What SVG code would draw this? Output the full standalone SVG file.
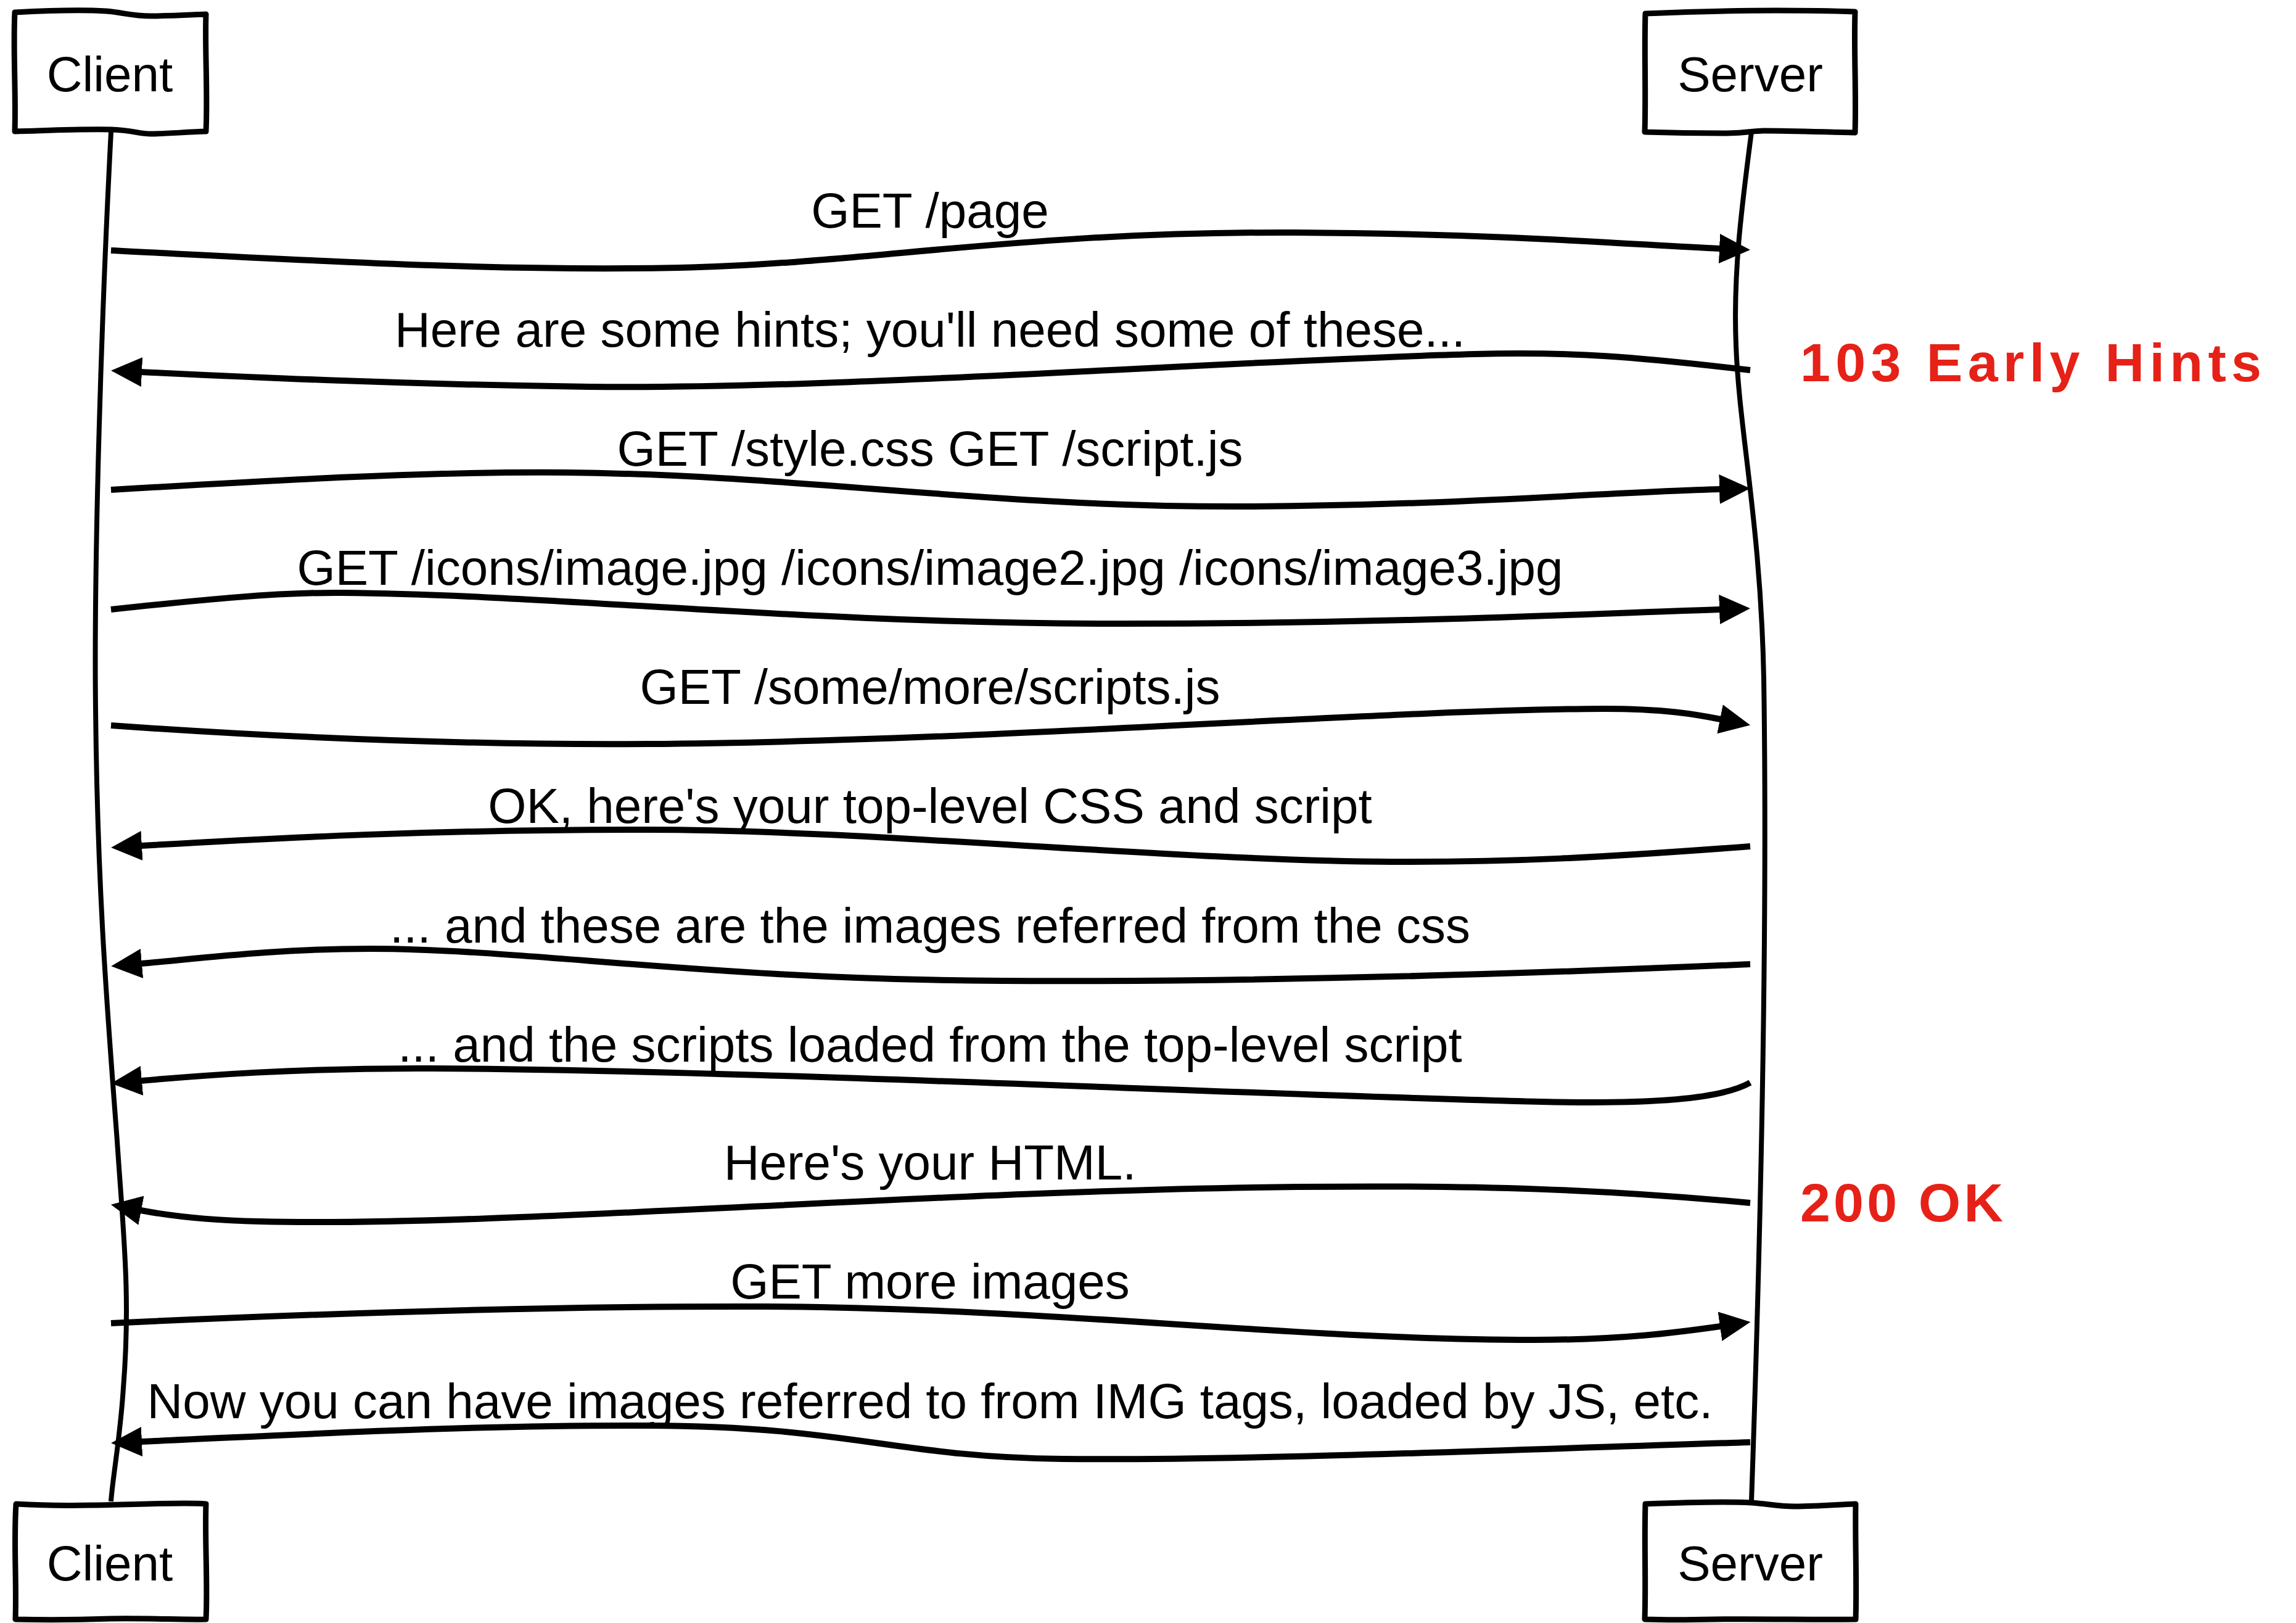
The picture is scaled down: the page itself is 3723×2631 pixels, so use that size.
<svg xmlns="http://www.w3.org/2000/svg" width="3723" height="2631" viewBox="0 0 3723 2631">
<style>
.box{fill:#fff;stroke:#000;stroke-width:9;stroke-linejoin:round}
.life{fill:none;stroke:#000;stroke-width:8;stroke-linecap:butt}
.msg{fill:none;stroke:#000;stroke-width:10;marker-end:url(#ah)}
.lbl{font-family:"Liberation Sans",Arial,Helvetica,sans-serif;font-size:80px;text-anchor:middle;fill:#000}
.note{font-family:"Liberation Sans",Arial,sans-serif;font-size:88px;font-weight:bold;fill:#e62117}
</style>
<defs>
<marker id="ah" markerUnits="userSpaceOnUse" markerWidth="52" markerHeight="50" viewBox="0 0 52 50" refX="1" refY="25" orient="auto">
<path d="M0,1 L50,25 L0,49 Z" fill="#000"/>
</marker>
</defs>
<rect width="3723" height="2631" fill="#fff"/>
<g id="connectors">
<path id="lifeline-client" class="life" d="M180,214 C165,500 152,900 155,1150 C158,1450 175,1650 190,1850 C200,2000 212,2100 200,2250 C195,2330 182,2400 180,2434"/>
<path id="lifeline-server" class="life" d="M2840,214 C2825,330 2810,440 2815,560 C2820,700 2855,850 2860,1100 C2866,1500 2855,2000 2840,2434"/>
<g id="msg1"><path class="msg" d="M180,406 C500,422 800,440 1100,434 C1400,428 1650,375 2100,377 C2450,379 2650,397 2789,403"/><text class="lbl" x="1508" y="369">GET /page</text></g>
<g id="msg2"><path class="msg" d="M2838,600 C2650,578 2550,570 2391,574 C2000,584 1350,632 956,627 C650,623 420,612 229,603"/><text class="lbl" x="1508" y="562">Here are some hints; you'll need some of these...</text></g>
<g id="msg3"><path class="msg" d="M180,794 C450,778 700,764 918,766 C1300,770 1600,822 2009,821 C2350,820 2600,798 2789,793"/><text class="lbl" x="1508" y="755">GET /style.css GET /script.js</text></g>
<g id="msg4"><path class="msg" d="M180,988 C330,972 450,960 555,961 C900,964 1300,1011 1817,1011 C2250,1011 2550,996 2789,988"/><text class="lbl" x="1508" y="948">GET /icons/image.jpg /icons/image2.jpg /icons/image3.jpg</text></g>
<g id="msg5"><path class="msg" d="M180,1176 C450,1195 750,1208 1052,1206 C1600,1202 2250,1150 2600,1149 C2700,1149 2750,1158 2790,1166"/><text class="lbl" x="1508" y="1141">GET /some/more/scripts.js</text></g>
<g id="msg6"><path class="msg" d="M2838,1372 C2600,1390 2450,1398 2257,1397 C1900,1395 1400,1345 1052,1345 C700,1345 450,1358 229,1371"/><text class="lbl" x="1508" y="1334">OK, here's your top-level CSS and script</text></g>
<g id="msg7"><path class="msg" d="M2838,1563 C2400,1582 2000,1592 1626,1590 C1150,1588 850,1538 600,1538 C450,1538 330,1553 229,1562"/><text class="lbl" x="1508" y="1528">... and these are the images referred from the css</text></g>
<g id="msg8"><path class="msg" d="M2838,1755 C2790,1782 2680,1790 2500,1786 C2000,1774 1200,1734 700,1732 C480,1731 320,1744 229,1752"/><text class="lbl" x="1508" y="1721">... and the scripts loaded from the top-level script</text></g>
<g id="msg9"><path class="msg" d="M2838,1950 C2600,1928 2400,1921 2104,1924 C1500,1930 800,1990 420,1980 C330,1978 270,1970 228,1962"/><text class="lbl" x="1508" y="1912">Here's your HTML.</text></g>
<g id="msg10"><path class="msg" d="M180,2145 C500,2130 900,2117 1243,2118 C1700,2120 2100,2172 2487,2172 C2630,2172 2720,2160 2790,2150"/><text class="lbl" x="1508" y="2105">GET more images</text></g>
<g id="msg11"><path class="msg" d="M2838,2338 C2400,2352 2000,2368 1722,2365 C1450,2362 1380,2312 1050,2311 C750,2310 480,2326 229,2337"/><text class="lbl" x="1508" y="2299">Now you can have images referred to from IMG tags, loaded by JS, etc.</text></g>
</g>
<g id="node-client-top">
<path class="box" d="M24,20 C80,17 140,16 172,18 C200,20 212,26 245,26 C280,26 310,24 334,23 C332,80 337,150 334,213 C300,214 270,217 245,217 C225,217 215,211 180,210 C120,209 70,212 24,213 C26,150 21,80 24,20 Z"/>
<text class="lbl" x="178" y="148">Client</text>
</g>
<g id="node-server-top">
<path class="box" d="M2668,22 C2720,20 2800,17 2880,17 C2940,17 2980,18 3008,19 C3006,80 3010,150 3008,215 C2960,214 2900,212 2860,212 C2840,212 2835,216 2800,216 C2760,216 2700,215 2667,214 C2669,150 2666,80 2668,22 Z"/>
<text class="lbl" x="2838" y="148">Server</text>
</g>
<g id="node-client-bottom">
<path class="box" d="M26,2438 C60,2440 100,2441 150,2440 C220,2439 300,2435 334,2438 C332,2500 337,2570 334,2625 C300,2626 240,2623 180,2624 C120,2626 70,2626 25,2625 C27,2560 22,2500 26,2438 Z"/>
<text class="lbl" x="178" y="2562">Client</text>
</g>
<g id="node-server-bottom">
<path class="box" d="M2668,2438 C2720,2436 2800,2434 2840,2436 C2870,2438 2880,2442 2910,2442 C2950,2442 2980,2439 3009,2438 C3008,2500 3011,2570 3009,2625 C2950,2626 2850,2624 2780,2625 C2730,2626 2700,2626 2667,2625 C2669,2560 2666,2500 2668,2438 Z"/>
<text class="lbl" x="2838" y="2562">Server</text>
</g>
<g id="annotations">
<text class="note" x="2919" y="618" textLength="748" lengthAdjust="spacing">103 Early Hints</text>
<text class="note" x="2919" y="1980" textLength="329" lengthAdjust="spacing">200 OK</text>
</g>
</svg>
